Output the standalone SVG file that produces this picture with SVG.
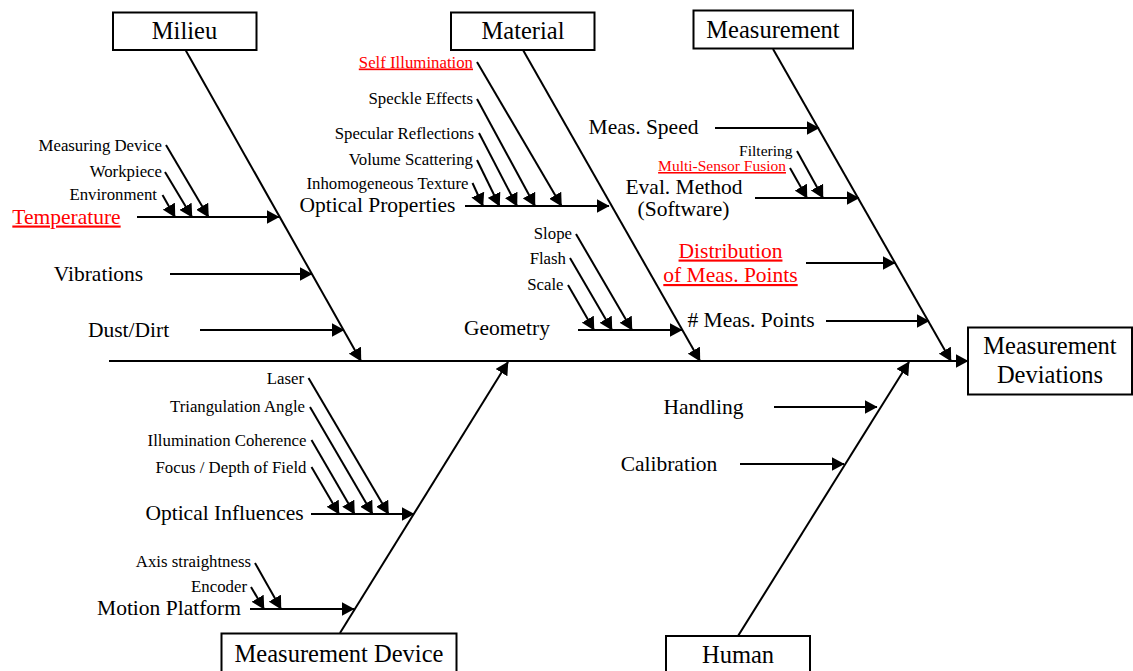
<svg xmlns="http://www.w3.org/2000/svg" width="1133" height="671" viewBox="0 0 1133 671" font-family="'Liberation Serif', 'DejaVu Serif', serif">
<defs>
<marker id="ah" viewBox="0 0 13 14" refX="12.5" refY="7" markerWidth="13" markerHeight="14" markerUnits="userSpaceOnUse" orient="auto"><path d="M0,0 L13,7 L0,14 z" fill="#000"/></marker>
<style>
.box{fill:#fff;stroke:#000;stroke-width:2}
text{font-family:'Liberation Serif','DejaVu Serif',serif;fill:#000}
.t1{font-size:24.5px;text-anchor:middle}
.t2{font-size:21.5px;text-anchor:middle}
.t3{font-size:16.8px;text-anchor:end}
.sm{font-size:15.5px}
.red{fill:#ff0000;text-decoration:underline}
#connectors line{stroke:#000;stroke-width:2;marker-end:url(#ah)}
</style>
</defs>
<rect width="1133" height="671" fill="#fff"/>
<g id="connectors">
<line x1="109" y1="361" x2="968" y2="361"/>
<line x1="185.5" y1="50" x2="361" y2="361"/>
<line x1="523" y1="50" x2="700" y2="361"/>
<line x1="773" y1="49" x2="951" y2="361"/>
<line x1="340" y1="633" x2="508" y2="362"/>
<line x1="738" y1="636" x2="909" y2="362"/>
<line x1="137" y1="217" x2="279" y2="217"/>
<line x1="170" y1="274" x2="312" y2="274"/>
<line x1="200" y1="330" x2="344" y2="330"/>
<line x1="465" y1="206" x2="609" y2="206"/>
<line x1="578" y1="330" x2="682" y2="330"/>
<line x1="715" y1="128" x2="819" y2="128"/>
<line x1="755" y1="198" x2="859" y2="198"/>
<line x1="806" y1="263" x2="895" y2="263"/>
<line x1="826" y1="321" x2="929" y2="321"/>
<line x1="311" y1="514" x2="414" y2="514"/>
<line x1="250" y1="609" x2="354" y2="609"/>
<line x1="774" y1="407" x2="877" y2="407"/>
<line x1="740" y1="464" x2="844" y2="464"/>
<line x1="166" y1="145" x2="208.5" y2="217"/>
<line x1="165" y1="172" x2="192" y2="217"/>
<line x1="162.5" y1="195" x2="175" y2="217"/>
<line x1="477" y1="62" x2="561.5" y2="206"/>
<line x1="477" y1="99" x2="535" y2="206"/>
<line x1="479" y1="133" x2="517" y2="206"/>
<line x1="477" y1="160" x2="499.5" y2="206"/>
<line x1="472.5" y1="183" x2="483" y2="206"/>
<line x1="576" y1="234" x2="632" y2="330"/>
<line x1="570" y1="258" x2="612" y2="330"/>
<line x1="568" y1="285" x2="594" y2="330"/>
<line x1="797" y1="151" x2="823" y2="198"/>
<line x1="790" y1="168" x2="807" y2="198"/>
<line x1="308.5" y1="378" x2="388.5" y2="514"/>
<line x1="310" y1="407" x2="372.5" y2="514"/>
<line x1="311.5" y1="440" x2="354.5" y2="514"/>
<line x1="311.5" y1="467" x2="339" y2="514"/>
<line x1="255" y1="563" x2="281" y2="609"/>
<line x1="251" y1="587" x2="264" y2="609"/>
</g>
<g id="milieu"><rect class="box" x="113" y="12.5" width="143.5" height="37.5"/><text class="t1" x="184.5" y="39">Milieu</text></g>
<g id="material"><rect class="box" x="451" y="12.5" width="143.5" height="37.5"/><text class="t1" x="523" y="39">Material</text></g>
<g id="measurement"><rect class="box" x="693.5" y="10.5" width="159.5" height="38"/><text class="t1" x="773" y="37.5">Measurement</text></g>
<g id="measurement-device"><rect class="box" x="221.5" y="633.5" width="235" height="42"/><text class="t1" x="339" y="662">Measurement Device</text></g>
<g id="human"><rect class="box" x="666" y="636" width="144" height="42"/><text class="t1" x="738" y="663">Human</text></g>
<g id="deviations"><rect class="box" x="968" y="327.5" width="164" height="67"/><text class="t1" x="1050" y="354">Measurement</text><text class="t1" x="1050" y="383">Deviations</text></g>
<g id="temperature"><text class="t2 red" x="66.5" y="223.5">Temperature</text></g>
<g id="vibrations"><text class="t2" x="98.5" y="281">Vibrations</text></g>
<g id="dust"><text class="t2" x="128.5" y="337">Dust/Dirt</text></g>
<g id="optical-properties"><text class="t2" x="377.5" y="212">Optical Properties</text></g>
<g id="geometry"><text class="t2" x="507" y="335">Geometry</text></g>
<g id="meas-speed"><text class="t2" x="643.5" y="133.5">Meas. Speed</text></g>
<g id="eval-method"><text class="t2" x="684" y="193.5">Eval. Method</text><text class="t2" x="683.5" y="215.5">(Software)</text></g>
<g id="distribution"><text class="t2 red" x="730.5" y="257.5">Distribution</text><text class="t2 red" x="730.5" y="282">of Meas. Points</text></g>
<g id="num-points"><text class="t2" x="751" y="327"># Meas. Points</text></g>
<g id="optical-influences"><text class="t2" x="224.5" y="519.5">Optical Influences</text></g>
<g id="motion-platform"><text class="t2" x="169" y="615">Motion Platform</text></g>
<g id="handling"><text class="t2" x="703.5" y="414">Handling</text></g>
<g id="calibration"><text class="t2" x="669" y="471">Calibration</text></g>
<g id="measuring-device"><text class="t3" x="162" y="151">Measuring Device</text></g>
<g id="workpiece"><text class="t3" x="162" y="177">Workpiece</text></g>
<g id="environment"><text class="t3" x="157" y="200">Environment</text></g>
<g id="self-illumination"><text class="t3 red" x="473" y="67.5">Self Illumination</text></g>
<g id="speckle"><text class="t3" x="473" y="104">Speckle Effects</text></g>
<g id="specular"><text class="t3" x="474" y="138.5">Specular Reflections</text></g>
<g id="volume"><text class="t3" x="473" y="165">Volume Scattering</text></g>
<g id="inhomogeneous"><text class="t3" x="468.5" y="188.5">Inhomogeneous Texture</text></g>
<g id="slope"><text class="t3" x="572" y="239">Slope</text></g>
<g id="flash"><text class="t3" x="566" y="263.5">Flash</text></g>
<g id="scale"><text class="t3" x="563.5" y="289.5">Scale</text></g>
<g id="filtering"><text class="t3 sm" x="792.5" y="155.5">Filtering</text></g>
<g id="multi-sensor"><text class="t3 sm red" x="786" y="171">Multi-Sensor Fusion</text></g>
<g id="laser"><text class="t3" x="304" y="383.5">Laser</text></g>
<g id="triangulation"><text class="t3" x="305" y="412">Triangulation Angle</text></g>
<g id="coherence"><text class="t3" x="306.5" y="446">Illumination Coherence</text></g>
<g id="focus"><text class="t3" x="306.5" y="472.5">Focus / Depth of Field</text></g>
<g id="axis"><text class="t3" x="251" y="567">Axis straightness</text></g>
<g id="encoder"><text class="t3" x="247" y="592">Encoder</text></g>
</svg>
